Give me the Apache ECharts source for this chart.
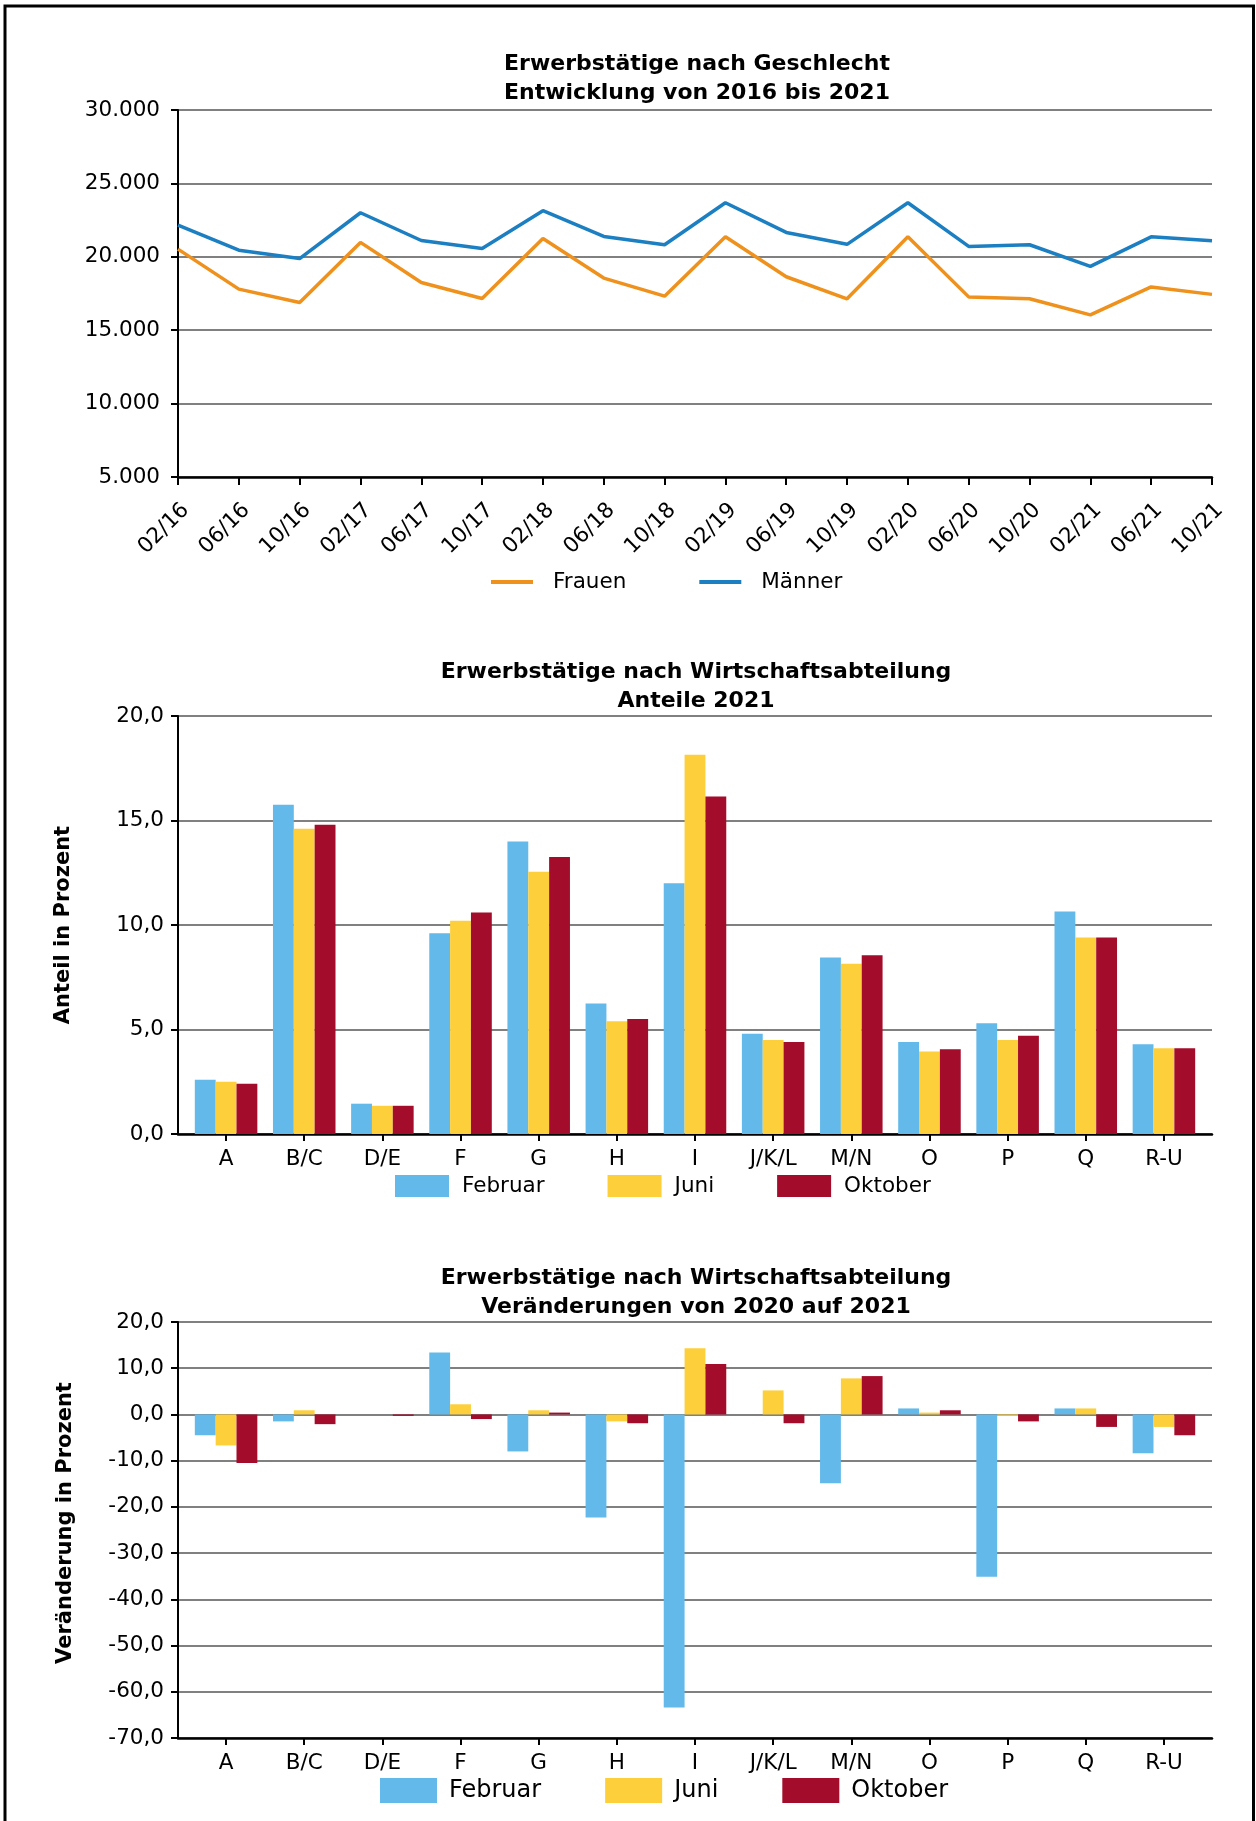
<!DOCTYPE html>
<html>
<head>
<meta charset="utf-8">
<script src="https://cdn.jsdelivr.net/npm/echarts@6/dist/echarts.min.js"></script>
<style>
  html, body { margin: 0; padding: 0; background: #fff; }
  #chart { width: 1256px; height: 1821px; }
</style>
</head>
<body>
<div id="chart"></div>
<script>
// ---- data ----
const dates = ['02/16','06/16','10/16','02/17','06/17','10/17','02/18','06/18','10/18','02/19','06/19','10/19','02/20','06/20','10/20','02/21','06/21','10/21'];
const frauen = [20525, 17800, 16890, 20980, 18250, 17160, 21250, 18550, 17320, 21360, 18640, 17140, 21360, 17270, 17140, 16040, 17950, 17440];
const maenner = [22160, 20450, 19880, 23000, 21110, 20570, 23140, 21390, 20820, 23680, 21660, 20850, 23680, 20710, 20820, 19350, 21360, 21090];

const branchen = ['A','B/C','D/E','F','G','H','I','J/K/L','M/N','O','P','Q','R-U'];
const anteilFeb = [2.6, 15.75, 1.45, 9.6, 14.0, 6.25, 12.0, 4.8, 8.45, 4.4, 5.3, 10.65, 4.3];
const anteilJun = [2.5, 14.6, 1.35, 10.2, 12.55, 5.4, 18.15, 4.5, 8.15, 3.95, 4.5, 9.4, 4.1];
const anteilOkt = [2.4, 14.8, 1.35, 10.6, 13.25, 5.5, 16.15, 4.4, 8.55, 4.05, 4.7, 9.4, 4.1];

const verFeb = [-4.5, -1.5, 0, 13.4, -8.0, -22.3, -63.4, 0, -14.9, 1.3, -35.1, 1.3, -8.4];
const verJun = [-6.7, 0.9, 0, 2.2, 0.9, -1.5, 14.3, 5.2, 7.8, 0.4, -0.3, 1.3, -2.7];
const verOkt = [-10.5, -2.1, -0.3, -1.0, 0.4, -1.9, 10.9, -1.9, 8.3, 0.9, -1.5, -2.7, -4.5];

const title1 = 'Erwerbstätige nach Geschlecht\nEntwicklung von 2016 bis 2021';
const title2 = 'Erwerbstätige nach Wirtschaftsabteilung\nAnteile 2021';
const title3 = 'Erwerbstätige nach Wirtschaftsabteilung\nVeränderungen von 2020 auf 2021';
const yName2 = 'Anteil in Prozent';
const yName3 = 'Veränderung in Prozent';

// ---- styles ----
const FONT = 'DejaVu Sans';
const C_ORANGE = '#ef911d';
const C_BLUE = '#1c7fc1';
const C_FEB = '#63b9e9';
const C_JUN = '#fccf3b';
const C_OKT = '#a30c2a';
const GRID_GRAY = '#808080';

function thousands(v) {
  return String(v).replace(/\B(?=(\d{3})+(?!\d))/g, '.');
}
function dec1(v) {
  return v.toFixed(1).replace('.', ',');
}

const tickFont = { fontFamily: FONT, fontSize: 21.5, color: '#000' };
const titleStyle = { fontFamily: FONT, fontSize: 22, fontWeight: 'bold', color: '#000', lineHeight: 29 };

function frameXAxis(gridIndex) {
  return {
    gridIndex, type: 'value', min: 0, max: 1,
    axisLine: { show: true, onZero: false, lineStyle: { color: '#000', width: 2.5 } },
    axisTick: { show: false }, axisLabel: { show: false }, splitLine: { show: false }
  };
}
function catXAxis(gridIndex) {
  return {
    gridIndex, type: 'category', data: branchen,
    axisLine: { show: false, onZero: false },
    axisTick: { show: true, alignWithLabel: true, length: 7, lineStyle: { color: '#000', width: 2 } },
    axisLabel: Object.assign({ margin: 14, interval: 0 }, tickFont),
    splitLine: { show: false }
  };
}
function valYAxis(gridIndex, min, max, interval, fmt, margin) {
  return {
    gridIndex, type: 'value', min, max, interval,
    axisLine: { show: true, lineStyle: { color: '#000', width: 2 } },
    axisTick: { show: true, length: 7, lineStyle: { color: '#000', width: 2 } },
    axisLabel: Object.assign({ margin: margin, formatter: fmt }, tickFont),
    splitLine: { show: true, lineStyle: { color: GRID_GRAY, width: 2 } }
  };
}
function hiddenYAxis(gridIndex, min, max) {
  return { gridIndex, type: 'value', min, max, show: false, splitLine: { show: false } };
}
function barSeries(name, data, color, x, y) {
  return {
    name, type: 'bar', data, xAxisIndex: x, yAxisIndex: y,
    barGap: '0%', barCategoryGap: '20%',
    itemStyle: { color }
  };
}

const option = {
  backgroundColor: '#fff',
  animation: false,
  textStyle: { fontFamily: FONT },
  title: [
    { text: title1, left: 692, top: 45, textAlign: 'center', textStyle: titleStyle },
    { text: title2, left: 691, top: 653, textAlign: 'center', textStyle: titleStyle },
    { text: title3, left: 691, top: 1259, textAlign: 'center', textStyle: titleStyle }
  ],
  grid: [
    { left: 178, top: 110, width: 1034, height: 367 },
    { left: 178, top: 716, width: 1034, height: 418 },
    { left: 187, top: 716, width: 1016, height: 418 },
    { left: 178, top: 1322, width: 1034, height: 416 },
    { left: 187, top: 1322, width: 1016, height: 416 }
  ],
  xAxis: [
    {
      gridIndex: 0, type: 'category', data: dates, boundaryGap: false,
      axisLine: { show: true, onZero: false, lineStyle: { color: '#000', width: 2.5 } },
      axisTick: { show: true, length: 8, lineStyle: { color: '#000', width: 2 } },
      axisLabel: Object.assign({ rotate: 45, margin: 22, verticalAlign: 'top', interval: 0 }, tickFont),
      splitLine: { show: false }
    },
    frameXAxis(1),
    catXAxis(2),
    frameXAxis(3),
    catXAxis(4)
  ],
  yAxis: [
    valYAxis(0, 5000, 30000, 5000, thousands, 18),
    valYAxis(1, 0, 20, 5, dec1, 14),
    hiddenYAxis(2, 0, 20),
    valYAxis(3, -70, 20, 10, dec1, 14),
    hiddenYAxis(4, -70, 20)
  ],
  legend: [
    {
      data: ['Frauen', 'Männer'], left: 486, top: 566, selectedMode: false,
      icon: 'rect', itemWidth: 42, itemHeight: 4, itemGap: 73,
      textStyle: Object.assign({ padding: [0, 0, 0, 15] }, tickFont)
    },
    {
      data: ['Februar', 'Juni', 'Oktober'], left: 390, top: 1170, selectedMode: false,
      icon: 'rect', itemWidth: 54, itemHeight: 22, itemGap: 63,
      textStyle: Object.assign({ padding: [0, 0, 0, 8] }, tickFont)
    },
    {
      data: ['Februar', 'Juni', 'Oktober'], left: 375, top: 1773, selectedMode: false,
      icon: 'rect', itemWidth: 57, itemHeight: 25, itemGap: 64,
      textStyle: { fontFamily: FONT, fontSize: 24, color: '#000', padding: [0, 0, 0, 7] }
    }
  ],
  graphic: [
    {
      type: 'rect', silent: true, z: 100,
      shape: { x: 5, y: 6, width: 1248.5, height: 1900 },
      style: { fill: 'none', stroke: '#000', lineWidth: 3 }
    },
    {
      type: 'text', x: 64, y: 925, rotation: Math.PI / 2,
      style: { text: yName2, font: 'bold 21px "DejaVu Sans"', fill: '#000',
               textAlign: 'center', textVerticalAlign: 'middle', align: 'center', verticalAlign: 'middle' }
    },
    {
      type: 'text', x: 66, y: 1523, rotation: Math.PI / 2,
      style: { text: yName3, font: 'bold 21px "DejaVu Sans"', fill: '#000',
               textAlign: 'center', textVerticalAlign: 'middle', align: 'center', verticalAlign: 'middle' }
    }
  ],
  series: [
    {
      name: 'Frauen', type: 'line', data: frauen, xAxisIndex: 0, yAxisIndex: 0,
      symbol: 'none', lineStyle: { color: C_ORANGE, width: 3.5 }, itemStyle: { color: C_ORANGE }
    },
    {
      name: 'Männer', type: 'line', data: maenner, xAxisIndex: 0, yAxisIndex: 0,
      symbol: 'none', lineStyle: { color: C_BLUE, width: 3.5 }, itemStyle: { color: C_BLUE }
    },
    barSeries('Februar', anteilFeb, C_FEB, 2, 2),
    barSeries('Juni', anteilJun, C_JUN, 2, 2),
    barSeries('Oktober', anteilOkt, C_OKT, 2, 2),
    barSeries('Februar', verFeb, C_FEB, 4, 4),
    barSeries('Juni', verJun, C_JUN, 4, 4),
    barSeries('Oktober', verOkt, C_OKT, 4, 4)
  ]
};

const chart = echarts.init(document.getElementById('chart'), null, { renderer: 'canvas' });
chart.setOption(option);
</script>
</body>
</html>
